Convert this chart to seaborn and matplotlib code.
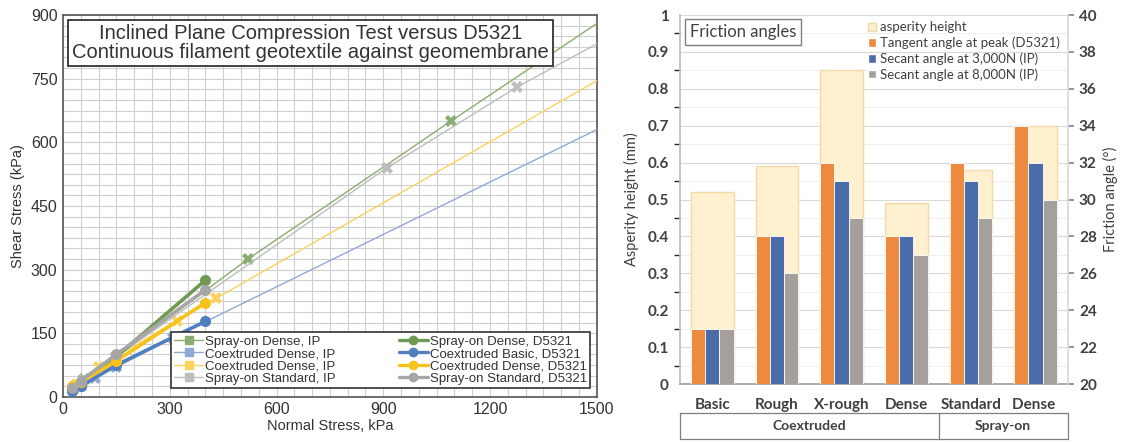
import numpy as np
import pandas as pd
import matplotlib.pyplot as plt
import seaborn as sns
from matplotlib.lines import Line2D
from matplotlib.patches import Patch

sns.set_theme(style='white')
plt.rcParams['font.family'] = ['Liberation Sans', 'DejaVu Sans']

# ---------- left panel data (normal stress vs shear stress, kPa) ----------
ip_names = ['Spray-on Dense, IP', 'Coextruded Dense, IP', 'Coextruded Dense, IP', 'Spray-on Standard, IP']
ip_x = [[30, 60, 150, 520, 1090, 1500],
        [50, 90, 150, 310, 1500],
        [40, 100, 320, 430, 1500],
        [30, 60, 150, 910, 1275, 1500]]
ip_y = [[22, 42, 95, 325, 650, 880],
        [25, 45, 70, 140, 630],
        [30, 70, 180, 232, 745],
        [20, 40, 95, 540, 730, 832]]

d_names = ['Spray-on Dense, D5321', 'Coextruded Basic, D5321', 'Coextruded Dense, D5321', 'Spray-on Standard, D5321']
d_x = [[25, 50, 150, 400],
       [25, 50, 150, 400],
       [25, 50, 150, 400],
       [25, 50, 150, 400]]
d_y = [[20, 35, 95, 275],
       [15, 25, 75, 178],
       [25, 35, 85, 222],
       [20, 38, 100, 252]]

series_colors = ['#6F9A52', '#4F7FC0', '#F7C21B', '#A6A6A6']
ip_colors = ['#8AAE72', '#8FA9D6', '#F9D35E', '#BDBDBD']

# ---------- right panel data ----------
surfaces = ['Basic', 'Rough', 'X-rough', 'Dense', 'Standard', 'Dense ']
groups = ['Coextruded', 'Spray-on']
group_sizes = [4, 2]
asperity = [0.52, 0.59, 0.85, 0.49, 0.58, 0.70]
measures = ['Tangent angle at peak (D5321)', 'Secant angle at 3,000N (IP)', 'Secant angle at 8,000N (IP)']
tangent_peak = [23, 28, 32, 28, 32, 34]
secant_3000 = [23, 28, 31, 28, 31, 32]
secant_8000 = [23, 26, 29, 27, 29, 30]
bar_colors = ['#EC8A3F', '#4A6CA8', '#A6A09C']

fig = plt.figure(figsize=(11.24, 4.42), dpi=100)

# ================= left panel =================
ax = fig.add_axes([0.056, 0.102, 0.475, 0.864])
for xs, ys, c in zip(ip_x, ip_y, ip_colors):
    sns.lineplot(x=xs, y=ys, ax=ax, color=c, linewidth=1.0, marker='X', markersize=8,
                 markevery=list(range(len(xs) - 1)), markeredgewidth=0, sort=False, zorder=3)
for xs, ys, c in zip(d_x, d_y, series_colors):
    sns.lineplot(x=xs, y=ys, ax=ax, color=c, linewidth=2.6, marker='o', markersize=8,
                 markeredgewidth=0, sort=False, zorder=4)

ax.set_xlim(0, 1500)
ax.set_ylim(0, 900)
ax.set_xticks(np.arange(0, 1501, 300))
ax.set_yticks(np.arange(0, 901, 150))
ax.set_xticks(np.arange(0, 1501, 50), minor=True)
ax.set_yticks(np.arange(0, 901, 25), minor=True)
ax.grid(which='both', color='#CFCFCF', linewidth=0.8)
ax.set_axisbelow(True)
for s in ax.spines.values():
    s.set_color('#555555')
    s.set_linewidth(1.2)
ax.tick_params(labelsize=11.5, colors='#333333', length=0, pad=4)
ax.set_xlabel('Normal Stress, kPa', fontsize=10.5, color='#333333', labelpad=1)
ax.set_ylabel('Shear Stress (kPa)', fontsize=10.5, color='#333333', labelpad=4)

ax.text(0.464, 0.927, 'Inclined Plane Compression Test versus D5321\nContinuous filament geotextile against geomembrane',
        transform=ax.transAxes, ha='center', va='center', fontsize=14.5, color='#333333', linespacing=1.05,
        bbox=dict(boxstyle='square,pad=0.2', facecolor='white', edgecolor='#222222', linewidth=1.2), zorder=6)

handles = [Line2D([], [], color=c, lw=1.0, marker='s', markersize=6) for c in ip_colors]
handles += [Line2D([], [], color=c, lw=2.4, marker='o', markersize=6) for c in series_colors]
leg = ax.legend(handles, ip_names + d_names, ncol=2, loc='lower left', bbox_to_anchor=(0.19, 0.005, 0.81, 0.15),
                mode='expand', fontsize=9.5, frameon=True, fancybox=False, edgecolor='#333333', framealpha=1,
                handlelength=2.2, handletextpad=0.15, labelspacing=0.02, columnspacing=1.0,
                borderpad=0.25)
leg.get_frame().set_linewidth(1.2)
for t in leg.get_texts():
    t.set_color('#333333')

# ================= right panel =================
rfont = ['Lato', 'DejaVu Sans']
ax2 = fig.add_axes([0.605, 0.131, 0.345, 0.835])
df_asp = pd.DataFrame({'surface': surfaces, 'asperity': asperity})
sns.barplot(data=df_asp, x='surface', y='asperity', ax=ax2, color='#FFF0CF', edgecolor='#F3D9A8',
            linewidth=1.0, width=0.66, saturation=1)
ax2.set_ylim(0, 1)
ax2.set_yticks(np.arange(0, 1.01, 0.1))
ax2.set_yticklabels(['0'] + [f'{v:.1f}' for v in np.arange(0.1, 1.0, 0.1)] + ['1'])
ax2.set_yticks(np.arange(0, 1.01, 0.05), minor=True)
ax2.grid(axis='y', which='major', color='#DADADA', linewidth=0.8)
ax2.grid(axis='y', which='minor', color='#EDEDED', linewidth=0.6)
ax2.set_axisbelow(True)
ax2.set_xlim(-0.5, 5.5)

axr = ax2.twinx()
df_fric = pd.DataFrame({
    'surface': surfaces * 3,
    'measure': [measures[0]] * 6 + [measures[1]] * 6 + [measures[2]] * 6,
    'angle': tangent_peak + secant_3000 + secant_8000,
})
sns.barplot(data=df_fric, x='surface', y='angle', hue='measure', ax=axr, palette=bar_colors,
            width=0.66, saturation=1, edgecolor='white', linewidth=0.6, legend=False)
axr.set_ylim(20, 40)
axr.set_yticks(np.arange(20, 41, 2))
axr.set_xlim(-0.5, 5.5)

for a in (ax2, axr):
    for s in a.spines.values():
        s.set_visible(False)
ax2.spines['left'].set_visible(True)
ax2.spines['left'].set_color('#BFBFBF')
ax2.spines['bottom'].set_visible(True)
ax2.spines['bottom'].set_color('#A0A0A0')
axr.spines['right'].set_visible(True)
axr.spines['right'].set_color('#D9D9D9')

ax2.tick_params(axis='y', labelsize=11, colors='#404040', length=0, pad=8)
axr.tick_params(axis='y', labelsize=11, colors='#404040', length=4, color='#888888', pad=4)
ax2.tick_params(axis='x', labelsize=11, colors='#404040', length=0, pad=10)
for lab in ax2.get_yticklabels() + axr.get_yticklabels() + ax2.get_xticklabels():
    lab.set_fontweight('bold')
    lab.set_family(rfont)
ax2.set_xlabel('')
ax2.set_ylabel('Asperity height (mm)', fontsize=10.5, color='#404040', family=rfont, labelpad=6)
axr.set_ylabel('Friction angle (°)', fontsize=10.5, color='#404040', family=rfont, labelpad=4)
axr.set_xlabel('')

# group table under the categories
trans = ax2.get_xaxis_transform()
y_top, y_bot = -0.079, -0.148
ax2.add_line(Line2D([-0.5, 5.5], [y_top, y_top], transform=trans, color='#7F7F7F', lw=0.9, clip_on=False))
ax2.add_line(Line2D([-0.5, 5.5], [y_bot, y_bot], transform=trans, color='#7F7F7F', lw=0.9, clip_on=False))
edges = np.concatenate([[0], np.cumsum(group_sizes)]) - 0.5
for e in edges:
    ax2.add_line(Line2D([e, e], [y_top, y_bot], transform=trans, color='#7F7F7F', lw=0.9, clip_on=False))
for g, lo, hi in zip(groups, edges[:-1], edges[1:]):
    ax2.text((lo + hi) / 2, (y_top + y_bot) / 2, g, transform=trans, ha='center', va='center',
             fontsize=10, fontweight='bold', color='#404040', family=rfont)

ax2.text(0.025, 0.975, 'Friction angles', transform=ax2.transAxes, ha='left', va='top', fontsize=12,
         color='#404040', family=rfont,
         bbox=dict(boxstyle='square,pad=0.3', facecolor='white', edgecolor='#7F7F7F', linewidth=1.0), zorder=6)

rh = [Patch(facecolor='#FFF0CF', edgecolor='#F3D9A8')] + [Patch(facecolor=c) for c in bar_colors]
rleg = axr.legend(rh, ['asperity height'] + measures, loc='upper left', bbox_to_anchor=(0.455, 1.015),
                  frameon=False, handlelength=0.6, handleheight=0.6, handletextpad=0.3,
                  labelspacing=0.25, prop={'family': rfont, 'size': 9.5})
for t in rleg.get_texts():
    t.set_color('#404040')

fig.savefig('out.png', dpi=100)
